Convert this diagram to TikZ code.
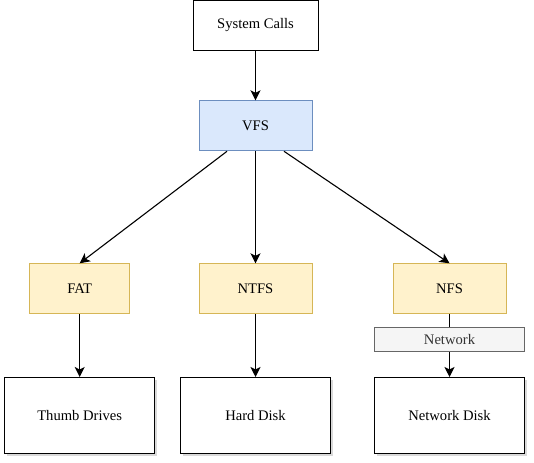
\documentclass[tikz,border=0pt]{standalone}
\usepackage{fontspec}
\setmainfont{Liberation Serif}
\usepackage{xcolor}
\usetikzlibrary{positioning,arrows.meta,calc,shadows}

\definecolor{vfsfill}{HTML}{DAE8FC}
\definecolor{vfsdraw}{HTML}{6C8EBF}
\definecolor{fsfill}{HTML}{FFF2CC}
\definecolor{fsdraw}{HTML}{D6B656}
\definecolor{netfill}{HTML}{F5F5F5}
\definecolor{netdraw}{HTML}{666666}
\definecolor{nettext}{HTML}{333333}

\begin{document}
\begin{tikzpicture}[
  x=1pt, y=1pt,
  font=\rmfamily\fontsize{14.6}{17}\selectfont,
  node distance=50pt,
  sysbox/.style={draw, line width=1pt, minimum width=125pt, minimum height=50pt, inner sep=0pt},
  vfsbox/.style={draw=vfsdraw, fill=vfsfill, line width=1pt, minimum width=113pt, minimum height=50pt, inner sep=0pt},
  fsbox/.style={draw=fsdraw, fill=fsfill, line width=1pt, minimum height=50pt, inner sep=0pt},
  devbox/.style={draw, fill=white, line width=1pt, minimum width=150pt, minimum height=76pt, inner sep=0pt,
    drop shadow={shadow xshift=2pt, shadow yshift=-2.5pt, opacity=0.3}},
  netlbl/.style={draw=netdraw, fill=netfill, text=nettext, line width=0.8pt, minimum width=150pt, minimum height=24pt, inner sep=0pt},
  farr/.style={-{Stealth[length=10pt, width=10pt, inset=2.5pt]}, line width=1.1pt}
]
  \useasboundingbox (0,0) rectangle (534,462);

  \node[sysbox] (sys) at (255.5,436.5) {System Calls};
  \node[vfsbox, below=49.3pt of sys] (vfs) {VFS};

  \node[fsbox, minimum width=113pt, below=112pt of vfs] (ntfs) {NTFS};
  \node[fsbox, minimum width=100pt, left=68.3pt of ntfs] (fat) {FAT};
  \node[fsbox, minimum width=113pt, right=80pt of ntfs] (nfs) {NFS};

  \node[devbox, below=62.7pt of fat] (thumb) {Thumb Drives};
  \node[devbox, below=62.7pt of ntfs] (hard) {Hard Disk};
  \node[devbox, below=62.7pt of nfs] (netdisk) {Network Disk};

  \draw[farr] (sys) -- (vfs);
  \draw[farr] ($(vfs.south west)!0.25!(vfs.south east)$) -- (fat.north);
  \draw[farr] (vfs) -- (ntfs);
  \draw[farr] ($(vfs.south west)!0.75!(vfs.south east)$) -- (nfs.north);

  \draw[farr] (fat) -- (thumb);
  \draw[farr] (ntfs) -- (hard);
  \draw[farr] (nfs) -- node[netlbl, pos=0.4] (net) {Network} (netdisk);
\end{tikzpicture}
\end{document}
